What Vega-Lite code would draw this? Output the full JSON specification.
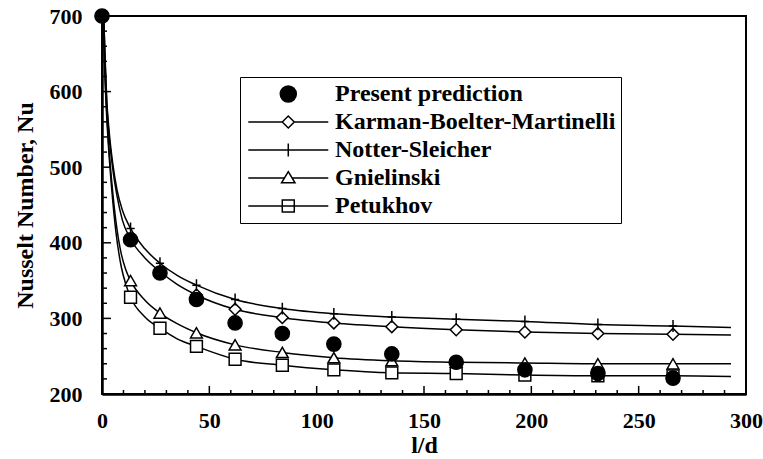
{
  "$schema": "https://vega.github.io/schema/vega-lite/v6.json",
  "width": 644,
  "height": 378,
  "autosize": {"type": "none"},
  "padding": {"left": 102, "top": 16, "right": 17, "bottom": 65},
  "background": "white",
  "config": {
    "view": {"stroke": "black", "strokeWidth": 2},
    "font": "Liberation Serif",
    "axis": {
      "labelFont": "Liberation Serif", "labelFontSize": 22, "labelFontWeight": "bold", "labelColor": "black",
      "titleFont": "Liberation Serif", "titleFontSize": 24, "titleFontWeight": "bold", "titleColor": "black",
      "domainColor": "black", "domainWidth": 2.5, "ticks": false,
      "grid": false, "labelFlush": false, "labelOverlap": false
    }
  },
  "datasets": {
    "xmajor": [{"ld": 0}, {"ld": 50}, {"ld": 100}, {"ld": 150}, {"ld": 200}, {"ld": 250}, {"ld": 300}],
    "xminor": [{"ld": 10}, {"ld": 20}, {"ld": 30}, {"ld": 40}, {"ld": 60}, {"ld": 70}, {"ld": 80}, {"ld": 90}, {"ld": 110}, {"ld": 120}, {"ld": 130}, {"ld": 140}, {"ld": 160}, {"ld": 170}, {"ld": 180}, {"ld": 190}, {"ld": 210}, {"ld": 220}, {"ld": 230}, {"ld": 240}, {"ld": 260}, {"ld": 270}, {"ld": 280}, {"ld": 290}],
    "ymajor": [{"nu": 300}, {"nu": 400}, {"nu": 500}, {"nu": 600}, {"nu": 700}],
    "yminor": [{"nu": 220}, {"nu": 240}, {"nu": 260}, {"nu": 280}, {"nu": 320}, {"nu": 340}, {"nu": 360}, {"nu": 380}, {"nu": 420}, {"nu": 440}, {"nu": 460}, {"nu": 480}, {"nu": 520}, {"nu": 540}, {"nu": 560}, {"nu": 580}, {"nu": 620}, {"nu": 640}, {"nu": 660}, {"nu": 680}],
    "curves": [
      {"series": "Notter-Sleicher", "ld": 0.8, "nu": 700}, {"series": "Notter-Sleicher", "ld": 1.5, "nu": 640}, {"series": "Notter-Sleicher", "ld": 2.2, "nu": 590}, {"series": "Notter-Sleicher", "ld": 3.3, "nu": 548}, {"series": "Notter-Sleicher", "ld": 5, "nu": 505}, {"series": "Notter-Sleicher", "ld": 7, "nu": 470}, {"series": "Notter-Sleicher", "ld": 9.5, "nu": 443}, {"series": "Notter-Sleicher", "ld": 13.3, "nu": 419}, {"series": "Notter-Sleicher", "ld": 20, "nu": 392}, {"series": "Notter-Sleicher", "ld": 27, "nu": 373}, {"series": "Notter-Sleicher", "ld": 35, "nu": 357}, {"series": "Notter-Sleicher", "ld": 44, "nu": 344}, {"series": "Notter-Sleicher", "ld": 62, "nu": 325}, {"series": "Notter-Sleicher", "ld": 84, "nu": 313}, {"series": "Notter-Sleicher", "ld": 108, "nu": 306}, {"series": "Notter-Sleicher", "ld": 135, "nu": 302}, {"series": "Notter-Sleicher", "ld": 165, "nu": 299}, {"series": "Notter-Sleicher", "ld": 197, "nu": 296}, {"series": "Notter-Sleicher", "ld": 231, "nu": 292}, {"series": "Notter-Sleicher", "ld": 266, "nu": 290}, {"series": "Notter-Sleicher", "ld": 293, "nu": 288},
      {"series": "Karman-Boelter-Martinelli", "ld": 0.8, "nu": 700}, {"series": "Karman-Boelter-Martinelli", "ld": 1.5, "nu": 635}, {"series": "Karman-Boelter-Martinelli", "ld": 2.2, "nu": 585}, {"series": "Karman-Boelter-Martinelli", "ld": 3.3, "nu": 542}, {"series": "Karman-Boelter-Martinelli", "ld": 5, "nu": 498}, {"series": "Karman-Boelter-Martinelli", "ld": 7, "nu": 462}, {"series": "Karman-Boelter-Martinelli", "ld": 9.5, "nu": 430}, {"series": "Karman-Boelter-Martinelli", "ld": 13.3, "nu": 405}, {"series": "Karman-Boelter-Martinelli", "ld": 20, "nu": 380}, {"series": "Karman-Boelter-Martinelli", "ld": 27, "nu": 362}, {"series": "Karman-Boelter-Martinelli", "ld": 35, "nu": 345}, {"series": "Karman-Boelter-Martinelli", "ld": 44, "nu": 331}, {"series": "Karman-Boelter-Martinelli", "ld": 62, "nu": 312}, {"series": "Karman-Boelter-Martinelli", "ld": 84, "nu": 301}, {"series": "Karman-Boelter-Martinelli", "ld": 108, "nu": 294}, {"series": "Karman-Boelter-Martinelli", "ld": 135, "nu": 289}, {"series": "Karman-Boelter-Martinelli", "ld": 165, "nu": 285}, {"series": "Karman-Boelter-Martinelli", "ld": 197, "nu": 282}, {"series": "Karman-Boelter-Martinelli", "ld": 231, "nu": 280}, {"series": "Karman-Boelter-Martinelli", "ld": 266, "nu": 279}, {"series": "Karman-Boelter-Martinelli", "ld": 293, "nu": 278},
      {"series": "Gnielinski", "ld": 0.6, "nu": 700}, {"series": "Gnielinski", "ld": 1.2, "nu": 640}, {"series": "Gnielinski", "ld": 2, "nu": 585}, {"series": "Gnielinski", "ld": 3, "nu": 535}, {"series": "Gnielinski", "ld": 4.5, "nu": 482}, {"series": "Gnielinski", "ld": 6.5, "nu": 428}, {"series": "Gnielinski", "ld": 9, "nu": 385}, {"series": "Gnielinski", "ld": 11, "nu": 365}, {"series": "Gnielinski", "ld": 13.3, "nu": 350}, {"series": "Gnielinski", "ld": 20, "nu": 324}, {"series": "Gnielinski", "ld": 27, "nu": 307}, {"series": "Gnielinski", "ld": 35, "nu": 293}, {"series": "Gnielinski", "ld": 44, "nu": 281}, {"series": "Gnielinski", "ld": 62, "nu": 265}, {"series": "Gnielinski", "ld": 84, "nu": 255}, {"series": "Gnielinski", "ld": 108, "nu": 248}, {"series": "Gnielinski", "ld": 135, "nu": 244}, {"series": "Gnielinski", "ld": 165, "nu": 242}, {"series": "Gnielinski", "ld": 197, "nu": 241}, {"series": "Gnielinski", "ld": 231, "nu": 240}, {"series": "Gnielinski", "ld": 266, "nu": 240}, {"series": "Gnielinski", "ld": 293, "nu": 240},
      {"series": "Petukhov", "ld": 0.6, "nu": 700}, {"series": "Petukhov", "ld": 1.2, "nu": 635}, {"series": "Petukhov", "ld": 2, "nu": 578}, {"series": "Petukhov", "ld": 3, "nu": 528}, {"series": "Petukhov", "ld": 4.5, "nu": 472}, {"series": "Petukhov", "ld": 6.5, "nu": 414}, {"series": "Petukhov", "ld": 9, "nu": 368}, {"series": "Petukhov", "ld": 11, "nu": 346}, {"series": "Petukhov", "ld": 13.3, "nu": 328}, {"series": "Petukhov", "ld": 20, "nu": 302}, {"series": "Petukhov", "ld": 27, "nu": 287}, {"series": "Petukhov", "ld": 35, "nu": 273}, {"series": "Petukhov", "ld": 44, "nu": 263}, {"series": "Petukhov", "ld": 62, "nu": 246}, {"series": "Petukhov", "ld": 84, "nu": 238}, {"series": "Petukhov", "ld": 108, "nu": 232}, {"series": "Petukhov", "ld": 135, "nu": 228}, {"series": "Petukhov", "ld": 165, "nu": 227}, {"series": "Petukhov", "ld": 197, "nu": 225}, {"series": "Petukhov", "ld": 231, "nu": 224}, {"series": "Petukhov", "ld": 266, "nu": 224}, {"series": "Petukhov", "ld": 293, "nu": 223}
    ],
    "markers": [
      {"series": "Karman-Boelter-Martinelli", "ld": 13.3, "nu": 405}, {"series": "Karman-Boelter-Martinelli", "ld": 27, "nu": 362}, {"series": "Karman-Boelter-Martinelli", "ld": 44, "nu": 331}, {"series": "Karman-Boelter-Martinelli", "ld": 62, "nu": 312}, {"series": "Karman-Boelter-Martinelli", "ld": 84, "nu": 301}, {"series": "Karman-Boelter-Martinelli", "ld": 108, "nu": 294}, {"series": "Karman-Boelter-Martinelli", "ld": 135, "nu": 289}, {"series": "Karman-Boelter-Martinelli", "ld": 165, "nu": 285}, {"series": "Karman-Boelter-Martinelli", "ld": 197, "nu": 282}, {"series": "Karman-Boelter-Martinelli", "ld": 231, "nu": 280}, {"series": "Karman-Boelter-Martinelli", "ld": 266, "nu": 279},
      {"series": "Notter-Sleicher", "ld": 13.3, "nu": 419}, {"series": "Notter-Sleicher", "ld": 27, "nu": 373}, {"series": "Notter-Sleicher", "ld": 44, "nu": 344}, {"series": "Notter-Sleicher", "ld": 62, "nu": 325}, {"series": "Notter-Sleicher", "ld": 84, "nu": 313}, {"series": "Notter-Sleicher", "ld": 108, "nu": 306}, {"series": "Notter-Sleicher", "ld": 135, "nu": 302}, {"series": "Notter-Sleicher", "ld": 165, "nu": 299}, {"series": "Notter-Sleicher", "ld": 197, "nu": 296}, {"series": "Notter-Sleicher", "ld": 231, "nu": 292}, {"series": "Notter-Sleicher", "ld": 266, "nu": 290},
      {"series": "Gnielinski", "ld": 13.3, "nu": 350}, {"series": "Gnielinski", "ld": 27, "nu": 307}, {"series": "Gnielinski", "ld": 44, "nu": 281}, {"series": "Gnielinski", "ld": 62, "nu": 265}, {"series": "Gnielinski", "ld": 84, "nu": 255}, {"series": "Gnielinski", "ld": 108, "nu": 248}, {"series": "Gnielinski", "ld": 135, "nu": 244}, {"series": "Gnielinski", "ld": 165, "nu": 242}, {"series": "Gnielinski", "ld": 197, "nu": 241}, {"series": "Gnielinski", "ld": 231, "nu": 240}, {"series": "Gnielinski", "ld": 266, "nu": 240},
      {"series": "Petukhov", "ld": 13.3, "nu": 328}, {"series": "Petukhov", "ld": 27, "nu": 287}, {"series": "Petukhov", "ld": 44, "nu": 263}, {"series": "Petukhov", "ld": 62, "nu": 246}, {"series": "Petukhov", "ld": 84, "nu": 238}, {"series": "Petukhov", "ld": 108, "nu": 232}, {"series": "Petukhov", "ld": 135, "nu": 228}, {"series": "Petukhov", "ld": 165, "nu": 227}, {"series": "Petukhov", "ld": 197, "nu": 225}, {"series": "Petukhov", "ld": 231, "nu": 224}, {"series": "Petukhov", "ld": 266, "nu": 224},
      {"series": "Present prediction", "ld": 0, "nu": 700}, {"series": "Present prediction", "ld": 13.3, "nu": 404}, {"series": "Present prediction", "ld": 27, "nu": 360}, {"series": "Present prediction", "ld": 44, "nu": 325}, {"series": "Present prediction", "ld": 62, "nu": 294}, {"series": "Present prediction", "ld": 84, "nu": 280}, {"series": "Present prediction", "ld": 108, "nu": 266}, {"series": "Present prediction", "ld": 135, "nu": 253}, {"series": "Present prediction", "ld": 165, "nu": 242}, {"series": "Present prediction", "ld": 197, "nu": 232}, {"series": "Present prediction", "ld": 231, "nu": 227}, {"series": "Present prediction", "ld": 266, "nu": 221}
    ]
  },
  "layer": [
    {
      "data": {"name": "xmajor"},
      "mark": {"type": "tick", "orient": "vertical", "size": 8, "thickness": 1.5, "color": "black", "opacity": 1, "yOffset": -4},
      "encoding": {
        "x": {"field": "ld", "type": "quantitative", "scale": {"domain": [0, 300], "nice": false}},
        "y": {"datum": 200, "type": "quantitative", "scale": {"domain": [200, 700], "zero": false, "nice": false}}
      }
    },
    {
      "data": {"name": "xminor"},
      "mark": {"type": "tick", "orient": "vertical", "size": 4, "thickness": 1.5, "color": "black", "opacity": 1, "yOffset": -2},
      "encoding": {
        "x": {"field": "ld", "type": "quantitative", "scale": {"domain": [0, 300], "nice": false}},
        "y": {"datum": 200, "type": "quantitative", "scale": {"domain": [200, 700], "zero": false, "nice": false}}
      }
    },
    {
      "data": {"name": "ymajor"},
      "mark": {"type": "tick", "orient": "horizontal", "size": 9, "thickness": 1.5, "color": "black", "opacity": 1, "xOffset": 4.5},
      "encoding": {
        "y": {"field": "nu", "type": "quantitative", "scale": {"domain": [200, 700], "zero": false, "nice": false}},
        "x": {"datum": 0, "type": "quantitative", "scale": {"domain": [0, 300], "nice": false}}
      }
    },
    {
      "data": {"name": "yminor"},
      "mark": {"type": "tick", "orient": "horizontal", "size": 5, "thickness": 1.5, "color": "black", "opacity": 1, "xOffset": 2.5},
      "encoding": {
        "y": {"field": "nu", "type": "quantitative", "scale": {"domain": [200, 700], "zero": false, "nice": false}},
        "x": {"datum": 0, "type": "quantitative", "scale": {"domain": [0, 300], "nice": false}}
      }
    },
    {
      "data": {"name": "curves"},
      "mark": {"type": "line", "interpolate": "monotone", "stroke": "black", "strokeWidth": 1.5},
      "encoding": {
        "x": {"field": "ld", "type": "quantitative", "scale": {"domain": [0, 300], "nice": false},
          "axis": {"orient": "bottom", "values": [0, 50, 100, 150, 200, 250, 300], "ticks": false, "labelPadding": 16, "title": "l/d", "titlePadding": 2}},
        "y": {"field": "nu", "type": "quantitative", "scale": {"domain": [200, 700], "zero": false, "nice": false},
          "axis": {"orient": "left", "values": [200, 300, 400, 500, 600, 700], "ticks": false, "labelPadding": 20, "title": "Nusselt Number, Nu", "titlePadding": 12}},
        "detail": {"field": "series", "type": "nominal"}
      }
    },
    {
      "data": {"name": "markers"},
      "mark": {"type": "point", "filled": true, "strokeWidth": 1.5, "opacity": 1},
      "encoding": {
        "x": {"field": "ld", "type": "quantitative", "scale": {"domain": [0, 300], "nice": false}},
        "y": {"field": "nu", "type": "quantitative", "scale": {"domain": [200, 700], "zero": false, "nice": false}},
        "shape": {"field": "series", "type": "nominal", "legend": null,
          "scale": {"domain": ["Karman-Boelter-Martinelli", "Notter-Sleicher", "Gnielinski", "Petukhov", "Present prediction"],
                    "range": ["diamond", "M-0.7,0H0.7M0,-1V1", "triangle-up", "square", "circle"]}},
        "stroke": {"field": "series", "type": "nominal",
          "scale": {"domain": ["Present prediction", "Karman-Boelter-Martinelli", "Notter-Sleicher", "Gnielinski", "Petukhov"],
                    "range": ["black", "black", "black", "black", "black"]},
          "legend": {
            "orient": "none", "legendX": 138, "legendY": 61, "title": null,
            "strokeColor": "black", "padding": 5, "rowPadding": 4,
            "labelFont": "Liberation Serif", "labelFontSize": 24, "labelFontWeight": "bold", "labelColor": "black", "labelLimit": 0,
            "symbolSize": 256, "symbolStrokeWidth": 1.5, "labelOffset": 66,
            "encoding": {"symbols": {
              "shape": {"value": {"expr": "datum.value === 'Present prediction' ? 'M4.91,0A1,1 0 1,1 2.91,0A1,1 0 1,1 4.91,0Z' : datum.value === 'Karman-Boelter-Martinelli' ? 'M-1.09,0H3.16M4.66,0H8.91M3.16,0L3.91,-0.75L4.66,0L3.91,0.75Z' : datum.value === 'Notter-Sleicher' ? 'M-1.09,0H8.91M3.91,-0.8V0.8' : datum.value === 'Gnielinski' ? 'M-1.09,0H3.43M4.39,0H8.91M3.91,-0.8L4.75,0.6L3.07,0.6Z' : 'M-1.09,0H8.91M3.16,-0.75H4.66V0.75H3.16Z'"}},
              "fill": {"value": {"expr": "datum.value === 'Present prediction' ? 'black' : 'white'"}},
              "strokeWidth": {"value": 1.5}
            }}
          }},
        "fill": {"condition": {"test": "datum.series === 'Present prediction'", "value": "black"}, "value": "white"},
        "size": {"condition": {"test": "datum.series === 'Present prediction'", "value": 200}, "value": 140}
      }
    }
  ]
}
